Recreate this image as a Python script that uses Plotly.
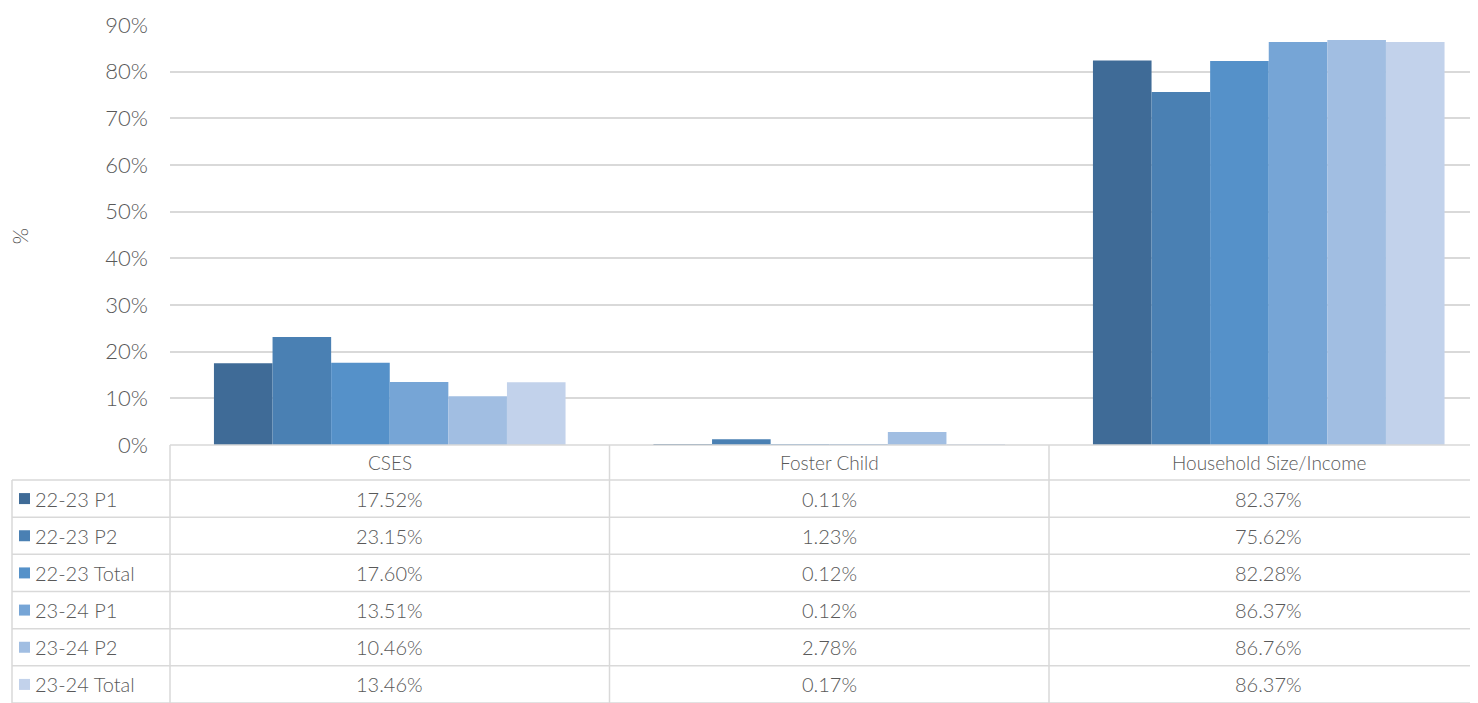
import plotly.graph_objects as go

categories = ["CSES", "Foster Child", "Household Size/Income"]
series_names = ["22-23 P1", "22-23 P2", "22-23 Total", "23-24 P1", "23-24 P2", "23-24 Total"]
v_2223_p1 = [17.52, 0.11, 82.37]
v_2223_p2 = [23.15, 1.23, 75.62]
v_2223_tot = [17.60, 0.12, 82.28]
v_2324_p1 = [13.51, 0.12, 86.37]
v_2324_p2 = [10.46, 2.78, 86.76]
v_2324_tot = [13.46, 0.17, 86.37]
series_values = [v_2223_p1, v_2223_p2, v_2223_tot, v_2324_p1, v_2324_p2, v_2324_tot]
colors = ["#3F6B97", "#4A80B3", "#5591C9", "#76A5D6", "#A1BEE2", "#C2D2EB"]
y_ticks = [0, 10, 20, 30, 40, 50, 60, 70, 80, 90]

# page offset (browser body margin)
OFF = 8
SW, SH = 1478, 703            # screenshot size
W, H = SW - OFF, SH - OFF     # figure size
# plot area in screenshot pixels
PL, PR, PT, PB = 170, 1478, 25, 445
L, R, T, B = PL - OFF, SW - PR, PT - OFF, SH - PB
PW = PR - PL
PH = PB - PT
CAT_W = 439.5                 # category spacing in pixels (chart is cropped at right)
FONT = "Lato"
TXT = "#595959"
GRID = "#D9D9D9"


def px(xs):
    return (xs - PL) / PW


def py(ys):
    return (PB - ys) / PH


fig = go.Figure()
for name, vals, c in zip(series_names, series_values, colors):
    fig.add_trace(go.Bar(x=categories, y=vals, name=name, marker=dict(color=c, line=dict(width=0)),
                         showlegend=False))

shapes = []
annotations = []
header_top, header_bot = 445, 480
row_h = (SH - header_bot) / len(series_names)
col_edges = [PL + CAT_W * i for i in range(len(categories) + 1)]
left_x = 12

line = dict(color=GRID, width=1.5)
shapes.append(dict(type="line", xref="paper", yref="paper", x0=px(PL), x1=px(SW), y0=py(header_top), y1=py(header_top), line=line))
shapes.append(dict(type="line", xref="paper", yref="paper", x0=px(left_x), x1=px(SW), y0=py(header_bot), y1=py(header_bot), line=line))
for i in range(1, len(series_names) + 1):
    yy = header_bot + row_h * i
    shapes.append(dict(type="line", xref="paper", yref="paper", x0=px(left_x), x1=px(SW), y0=py(yy), y1=py(yy), line=line))
for xe in col_edges:
    if xe <= SW:
        shapes.append(dict(type="line", xref="paper", yref="paper", x0=px(xe), x1=px(xe), y0=py(header_top), y1=py(SH), line=line))
shapes.append(dict(type="line", xref="paper", yref="paper", x0=px(left_x), x1=px(left_x), y0=py(header_bot), y1=py(SH), line=line))

tfont = dict(family=FONT, size=20, color=TXT, weight=300)
for j, cat in enumerate(categories):
    cx = (col_edges[j] + col_edges[j + 1]) / 2
    annotations.append(dict(text=cat, xref="paper", yref="paper", x=px(cx), y=py((header_top + header_bot) / 2),
                            showarrow=False, xanchor="center", yanchor="middle",
                            font=dict(family=FONT, size=19, color=TXT, weight=300)))
for i, (name, vals, c) in enumerate(zip(series_names, series_values, colors)):
    cy = header_bot + row_h * (i + 0.5)
    shapes.append(dict(type="rect", xref="paper", yref="paper", x0=px(19), x1=px(30), y0=py(cy - 5.5), y1=py(cy + 5.5),
                       fillcolor=c, line=dict(width=0)))
    annotations.append(dict(text=name, xref="paper", yref="paper", x=px(33), y=py(cy), showarrow=False,
                            xanchor="left", yanchor="middle", font=tfont))
    for j, v in enumerate(vals):
        cx = (col_edges[j] + col_edges[j + 1]) / 2
        annotations.append(dict(text=f"{v:.2f}%", xref="paper", yref="paper", x=px(cx), y=py(cy), showarrow=False,
                                xanchor="center", yanchor="middle", font=tfont))

annotations.append(dict(text="%", xref="paper", yref="paper", x=px(22), y=py(236), showarrow=False, textangle=90,
                        xanchor="center", yanchor="middle", font=dict(family=FONT, size=21, color=TXT, weight=300)))

fig.update_layout(
    width=W, height=H,
    margin=dict(l=L, r=R, t=T, b=B, autoexpand=False),
    barmode="group", bargap=0.2, bargroupgap=0,
    plot_bgcolor="white", paper_bgcolor="white",
    shapes=shapes, annotations=annotations,
    xaxis=dict(type="category", range=[-0.5, -0.5 + PW / CAT_W], showticklabels=False, showgrid=False,
               zeroline=False, showline=False, ticks=""),
    yaxis=dict(range=[0, 90], tickvals=y_ticks, ticktext=[f"{t}%" for t in y_ticks],
               showgrid=True, gridcolor=GRID, gridwidth=1.5, zeroline=False, showline=False,
               ticklabelstandoff=21, tickfont=dict(family=FONT, size=22, color=TXT, weight=300)),
    font=dict(family=FONT, color=TXT),
)

fig.write_html("out.html")
